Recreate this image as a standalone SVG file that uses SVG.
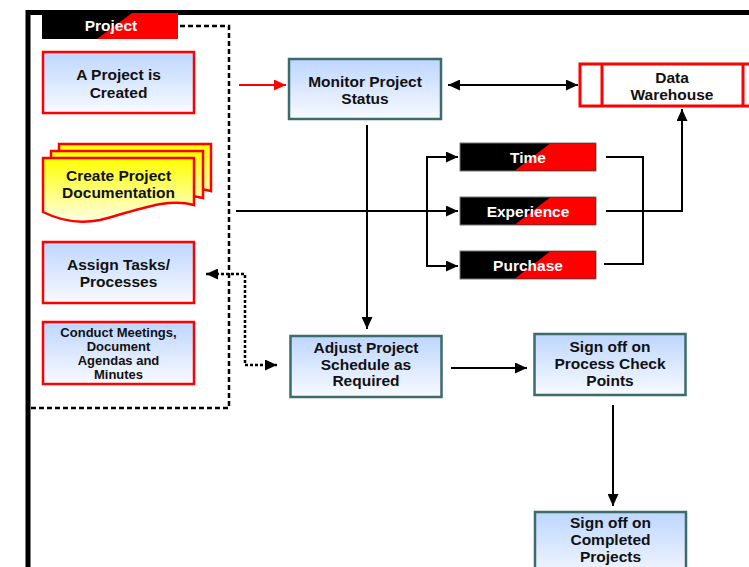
<svg xmlns="http://www.w3.org/2000/svg" width="749" height="567" viewBox="0 0 749 567">
<style>
text{font-family:"Liberation Sans",Arial,sans-serif;font-weight:bold;font-size:15.5px;fill:#111;text-anchor:middle}
.w{fill:#fff}
.sm{font-size:13px}
.rbox{fill:url(#blue);stroke:#ff0000;stroke-width:2.5}
.tbox{fill:url(#blue);stroke:#3d6b6b;stroke-width:2.5}
.doc{fill:url(#yel);stroke:#ff0000;stroke-width:2.5}
.ln{fill:none;stroke:#000;stroke-width:2}
.bar{fill:#000;stroke:#777;stroke-width:1}
.red{fill:#ff0000}
</style>
<defs>
<linearGradient id="blue" x1="0" y1="0" x2="0" y2="1">
<stop offset="0" stop-color="#bdd6ff"/><stop offset="1" stop-color="#f8faff"/>
</linearGradient>
<linearGradient id="yel" x1="0" y1="0" x2="0" y2="1">
<stop offset="0" stop-color="#ffff00"/><stop offset="1" stop-color="#ffffe6"/>
</linearGradient>
<marker id="ah" markerUnits="userSpaceOnUse" markerWidth="12" markerHeight="11" viewBox="0 0 12 11" refX="12" refY="5.5" orient="auto-start-reverse"><path d="M0,0 L12,5.5 L0,11 z" fill="#000"/></marker>
<marker id="ahr" markerUnits="userSpaceOnUse" markerWidth="12" markerHeight="11" viewBox="0 0 12 11" refX="12" refY="5.5" orient="auto"><path d="M0,0 L12,5.5 L0,11 z" fill="#ff0000"/></marker>
</defs>
<rect width="749" height="567" fill="#fff"/>
<rect x="28" y="12.5" width="800" height="600" fill="none" stroke="#000" stroke-width="5"/>
<g id="project-group">
<path d="M180,26 H229 V408 H30" fill="none" stroke="#000" stroke-width="2.5" stroke-dasharray="5,3"/>
<rect x="42" y="13" width="136" height="26" fill="#000"/>
<polygon class="red" points="132,13 178,13 178,39 97,39"/>
<text class="w" x="111" y="31">Project</text>
</g>
<g id="connectors">
<path class="ln" d="M239,85 H286" stroke="#ff0000" style="stroke:#ff0000" marker-end="url(#ahr)"/>
<path class="ln" d="M448,85 H578" marker-start="url(#ah)" marker-end="url(#ah)"/>
<path class="ln" d="M236,211 H458" marker-end="url(#ah)"/>
<path class="ln" d="M458,157 H427 V266 H458" marker-start="url(#ah)" marker-end="url(#ah)"/>
<path class="ln" d="M606,157 H643 V264 H604"/>
<path class="ln" d="M606,211 H682 V109" marker-end="url(#ah)"/>
<path class="ln" d="M367,125 V329" marker-end="url(#ah)"/>
<path class="ln" d="M451,368 H527" marker-end="url(#ah)"/>
<path class="ln" d="M613,405 V506" marker-end="url(#ah)"/>
<path d="M206,274 H245 V365 H277" fill="none" stroke="#000" stroke-width="2.5" stroke-dasharray="3,2" marker-start="url(#ah)" marker-end="url(#ah)"/>
</g>
<g id="a-project-is-created">
<rect class="rbox" x="43" y="52" width="151" height="61"/>
<text x="118.5" y="80">A Project is</text>
<text x="118.5" y="97.5">Created</text>
</g>
<g id="create-project-documentation">
<path class="doc" d="M59,144 H211 V191 C182,183 152,197 116,206 C91,211 71,204 59,198 Z"/>
<path class="doc" d="M51,151 H203 V198 C174,190 144,204 108,213 C83,218 63,211 51,205 Z"/>
<path class="doc" d="M43,158 H194 V205 C166,197 136,211 100,220 C75,225 55,218 43,212 Z"/>
<text x="118.5" y="181">Create Project</text>
<text x="118.5" y="198">Documentation</text>
</g>
<g id="assign-tasks">
<rect class="rbox" x="43" y="242" width="151" height="61"/>
<text x="118.5" y="270">Assign Tasks/</text>
<text x="118.5" y="287">Processes</text>
</g>
<g id="conduct-meetings">
<rect class="rbox" x="43" y="322" width="151" height="62"/>
<text class="sm" x="118.5" y="337">Conduct Meetings,</text>
<text class="sm" x="118.5" y="351">Document</text>
<text class="sm" x="118.5" y="365">Agendas and</text>
<text class="sm" x="118.5" y="379">Minutes</text>
</g>
<g id="monitor-project-status">
<rect class="tbox" x="289" y="59" width="152" height="60"/>
<text x="365" y="86.5">Monitor Project</text>
<text x="365" y="103.5">Status</text>
</g>
<g id="data-warehouse">
<rect x="580" y="64" width="190" height="42" fill="#fff" stroke="#ff0000" stroke-width="3"/>
<path d="M602,64 V106 M743,64 V106" stroke="#ff0000" stroke-width="3"/>
<text x="672" y="83.3">Data</text>
<text x="672" y="100">Warehouse</text>
</g>
<g id="time">
<rect class="bar" x="460" y="143" width="136" height="28"/>
<polygon class="red" points="550,143.5 595.5,143.5 595.5,170.5 515,170.5"/>
<text class="w" x="528" y="163.3">Time</text>
</g>
<g id="experience">
<rect class="bar" x="460" y="197" width="136" height="28"/>
<polygon class="red" points="550,197.5 595.5,197.5 595.5,224.5 515,224.5"/>
<text class="w" x="528" y="217.3">Experience</text>
</g>
<g id="purchase">
<rect class="bar" x="460" y="251" width="136" height="28"/>
<polygon class="red" points="550,251.5 595.5,251.5 595.5,278.5 515,278.5"/>
<text class="w" x="528" y="271">Purchase</text>
</g>
<g id="adjust-project-schedule">
<rect class="tbox" x="290.5" y="336" width="151" height="61"/>
<text x="366" y="353.3">Adjust Project</text>
<text x="366" y="370">Schedule as</text>
<text x="366" y="385.7">Required</text>
</g>
<g id="sign-off-process-check-points">
<rect class="tbox" x="534.5" y="334" width="151" height="61"/>
<text x="610" y="351.7">Sign off on</text>
<text x="610" y="369.3">Process Check</text>
<text x="610" y="385.7">Points</text>
</g>
<g id="sign-off-completed-projects">
<rect class="tbox" x="535" y="512" width="151" height="70"/>
<text x="610.5" y="527.7">Sign off on</text>
<text x="610.5" y="545">Completed</text>
<text x="610.5" y="561.7">Projects</text>
</g>
</svg>
